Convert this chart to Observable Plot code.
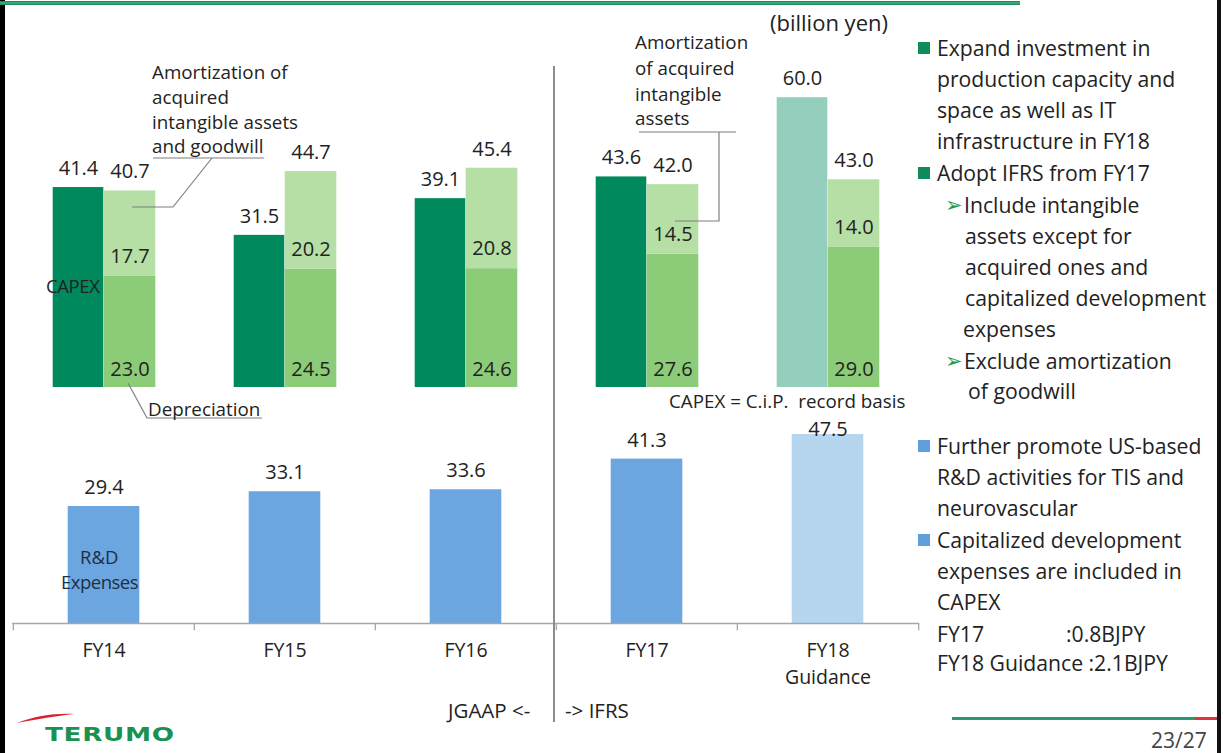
<!DOCTYPE html>
<html>
<head>
<meta charset="utf-8">
<script src="https://cdn.jsdelivr.net/npm/d3@7"></script>
<script src="https://cdn.jsdelivr.net/npm/@observablehq/plot@0.6"></script>
<style>
  html, body { margin: 0; padding: 0; background: #fff; }
  #slide { position: relative; width: 1223px; height: 753px; overflow: hidden; background: #fff;
           font-family: "Open Sans", "Noto Sans", sans-serif; color: #222; }
  .t { position: absolute; white-space: pre; }
  .slide-svg { position: absolute; left: 0; top: 0; overflow: visible; }
</style>
</head>
<body>
<div id="slide"></div>
<script>
// ---------------- data ----------------
const years = ["FY14", "FY15", "FY16", "FY17", "FY18"];
const yearLabels = ["FY14", "FY15", "FY16", "FY17", "FY18\nGuidance"];
const capex = [41.4, 31.5, 39.1, 43.6, 60.0];
const depreciation = [23.0, 24.5, 24.6, 27.6, 29.0];
const amortization = [17.7, 20.2, 20.8, 14.5, 14.0];
const depAmortTotal = [40.7, 44.7, 45.4, 42.0, 43.0];
const rnd = [29.4, 33.1, 33.6, 41.3, 47.5];
const isGuidance = [false, false, false, false, true];

// colours
const C_CAPEX = "#00895c", C_CAPEX_G = "#94cebc";
const C_DEP = "#8ccc78", C_AMORT = "#b5dfa5";
const C_RND = "#6ca6e0", C_RND_G = "#b6d6f0";
const TXT = "#222";

const rows = years.map((y, i) => ({
  year: y, label: yearLabels[i], capex: capex[i], dep: depreciation[i], amort: amortization[i],
  total: depAmortTotal[i], rnd: rnd[i], guidance: isGuidance[i]
}));
const labelOf = Object.fromEntries(rows.map(d => [d.year, d.label]));

const slide = document.getElementById("slide");
const W = 930, H = 753, ML = 12, MR = 11;
const half = (W - ML - MR) / years.length / 2; // half band width in px
const fmt = v => v.toFixed(1);
const VS = 20; // value label size
const fontStyle = { fontFamily: '"Open Sans", "Noto Sans", sans-serif', fontSize: "20px", color: TXT, background: "transparent", overflow: "visible" };

// ---------------- top chart: CAPEX vs depreciation & amortization ----------------
const topPlot = Plot.plot({
  width: W, height: H, marginLeft: ML, marginRight: MR, marginTop: 0, marginBottom: 0,
  x: { type: "band", domain: years, padding: 0, axis: null },
  y: { domain: [0, 62], range: [387, 387 - 62 * 4.83], axis: null },
  color: { type: "identity" },
  style: fontStyle,
  marks: [
    Plot.barY(rows, { x: "year", y1: 0, y2: "capex", fill: d => d.guidance ? C_CAPEX_G : C_CAPEX,
      insetLeft: half - 51, insetRight: half }),
    Plot.barY(rows, { x: "year", y1: 0, y2: "dep", fill: C_DEP, insetLeft: half, insetRight: half - 52 }),
    Plot.barY(rows, { x: "year", y1: "dep", y2: "total", fill: C_AMORT, insetLeft: half, insetRight: half - 52 }),
    Plot.text(rows, { x: "year", y: "capex", text: d => fmt(d.capex), dx: -25.5, dy: -19, fontSize: VS, fill: TXT }),
    Plot.text(rows, { x: "year", y: "total", text: d => fmt(d.total), dx: 26, dy: -19, fontSize: VS, fill: TXT }),
    Plot.text(rows, { x: "year", y: "dep", text: d => fmt(d.amort), dx: 26, dy: -20, fontSize: VS, fill: TXT }),
    Plot.text(rows, { x: "year", y: 0, text: d => fmt(d.dep), dx: 26, dy: -18, fontSize: VS, fill: TXT })
  ]
});
topPlot.classList.add("slide-svg");
slide.appendChild(topPlot);

// ---------------- bottom chart: R&D expenses ----------------
const bottomPlot = Plot.plot({
  width: W, height: H, marginLeft: ML, marginRight: MR, marginTop: 0, marginBottom: H - 623,
  x: { type: "band", domain: years, padding: 0, axis: null },
  y: { domain: [0, 50], range: [623, 623 - 50 * 3.98], axis: null },
  color: { type: "identity" },
  style: fontStyle,
  marks: [
    Plot.barY(rows, { x: "year", y: "rnd", fill: d => d.guidance ? C_RND_G : C_RND, insetLeft: half - 36, insetRight: half - 36 }),
    Plot.ruleY([0], { stroke: "#a6a6a6", strokeWidth: 1.3 }),
    Plot.ruleX(rows, { x: "year", dx: -half, y1: 0, y2: -1.8, stroke: "#a6a6a6", strokeWidth: 1.3 }),
    Plot.ruleX(rows.slice(-1), { x: "year", dx: half, y1: 0, y2: -1.8, stroke: "#a6a6a6", strokeWidth: 1.3 }),
    Plot.text(rows.filter(d => !d.guidance), { x: "year", y: "rnd", text: d => fmt(d.rnd), dy: -19, fontSize: VS, fill: TXT }),
    Plot.text(rows.filter(d => d.guidance), { x: "year", y: "rnd", text: d => fmt(d.rnd), dy: -5, fontSize: VS, fill: TXT }),
    Plot.axisX({ tickSize: 0, tickPadding: 15, fontSize: 19.5, lineHeight: 1.35, tickFormat: d => labelOf[d], fill: TXT, label: null })
  ]
});
bottomPlot.classList.add("slide-svg");
slide.appendChild(bottomPlot);

// ---------------- decorations & annotations ----------------
function box(l, t, w, h, bg) {
  const d = document.createElement("div");
  Object.assign(d.style, { position: "absolute", left: l + "px", top: t + "px", width: w + "px", height: h + "px", background: bg });
  slide.appendChild(d);
}
function txt(s, x, yc, size, extra = {}) {
  const d = document.createElement("div");
  d.className = "t";
  d.textContent = s;
  const lh = Math.round(size * 1.4);
  Object.assign(d.style, { left: x + "px", top: (yc - lh / 2) + "px", fontSize: size + "px", lineHeight: lh + "px" }, extra);
  slide.appendChild(d);
  return d;
}

// slide frame
box(0, 0, 5, 753, "#000");
box(1217, 0, 4, 753, "#111");
box(0, 1, 1020, 4, "#1f8c5e");
box(0, 2, 1020, 2, "#3aa574");
// divider JGAAP / IFRS
box(553, 66, 1.5, 656, "#8c8c8c");
// bottom right rule
box(952, 717, 243, 3, "#2a9a6c");
box(1195, 717, 22, 3, "#e2343c");

// leader lines
const ns = "http://www.w3.org/2000/svg";
const ov = document.createElementNS(ns, "svg");
ov.setAttribute("width", 1223); ov.setAttribute("height", 753);
ov.setAttribute("class", "slide-svg");
ov.innerHTML = `
  <g fill="none" stroke="#7f7f7f" stroke-width="1.2">
    <polyline points="153,158 264,158"/>
    <polyline points="212,158 173,207 132,207"/>
    <polyline points="128,383 147,418 262,418"/>
    <polyline points="639,132 736,132"/>
    <polyline points="719,132 719,221 675,221"/>
  </g>
  <path d="M17,723 C35,716 55,713 74,714 C56,716 38,719 17,723 Z" fill="#d8232e"/>
`;
slide.appendChild(ov);

// chart annotations
const A = 18.8;
txt("Amortization of", 152, 72, A);
txt("acquired", 152, 97, A);
txt("intangible assets", 152, 122, A);
txt("and goodwill", 152, 146, A);
txt("Depreciation", 148, 409, A);
txt("CAPEX", 46, 286, 18.5, { letterSpacing: "-0.4px" });
txt("Amortization", 635, 42, A);
txt("of acquired", 635, 68, A);
txt("intangible", 635, 94, A);
txt("assets", 635, 118, A);
txt("(billion yen)", 770, 22, 22);
txt("CAPEX = C.i.P.  record basis", 669, 401, 18.8, { lineHeight: "22px", top: "390px" });
txt("R&D", 80, 557, 18.5, { color: "#1c2f45" });
txt("Expenses", 61, 582, 18.5, { color: "#1c2f45", letterSpacing: "-0.5px" });
txt("JGAAP <-", 448, 710, 20.5);
txt("-> IFRS", 565, 710, 20.5);

// right panel
const R = 21.2;
const green = "#0f8c5c", blue = "#5f9fdc";
const arrow = { color: "#1f9a55", fontFamily: "DejaVu Sans" };
box(918, 42, 12, 12, green);
txt("Expand investment in", 937, 48, R);
txt("production capacity and", 937, 79, R);
txt("space as well as IT", 937, 110, R);
txt("infrastructure in FY18", 937, 141, R);
box(918, 167, 12, 12, green);
txt("Adopt IFRS from FY17", 937, 173, R);
txt("\u27A2", 945, 205, 21, arrow);
txt("Include intangible", 964, 205, R);
txt("assets except for", 965, 236, R);
txt("acquired ones and", 965, 267, R);
txt("capitalized development", 965, 298, R);
txt("expenses", 963, 329, R);
txt("\u27A2", 945, 361, 21, arrow);
txt("Exclude amortization", 964, 361, R);
txt("of goodwill", 968, 391, R);
box(918, 440, 12, 12, blue);
txt("Further promote US-based", 937, 446, R);
txt("R&D activities for TIS and", 937, 477, R);
txt("neurovascular", 937, 508, R);
box(918, 534, 12, 12, blue);
txt("Capitalized development", 937, 540, R);
txt("expenses are included in", 937, 571, R);
txt("CAPEX", 937, 602, R);
txt("FY17", 937, 634, R);
txt(":0.8BJPY", 1066, 634, R);
txt("FY18 Guidance :2.1BJPY", 937, 663, R);

// footer
txt("23/27", 1151, 740, 21, { color: "#444" });
txt("TERUMO", 45, 734, 19, { fontFamily: "DejaVu Sans", fontWeight: "bold", color: "#1b9150",
  transform: "scaleX(1.38)", transformOrigin: "left center", letterSpacing: "0.5px" });
</script>
</body>
</html>
